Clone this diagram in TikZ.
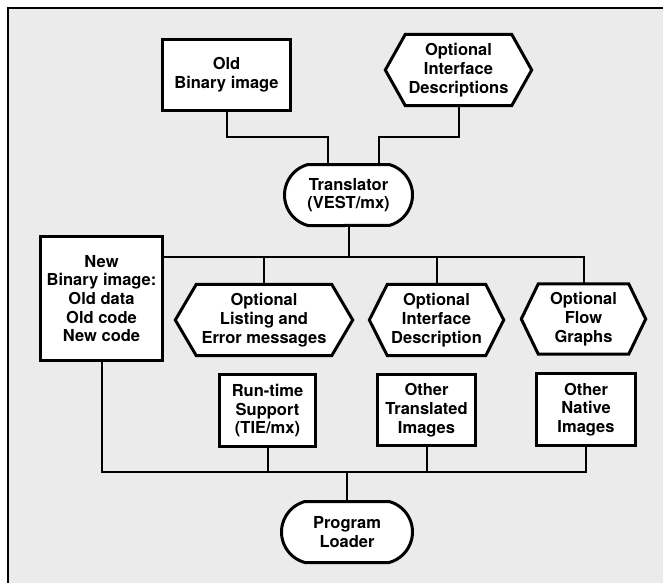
\documentclass[tikz,border=0pt]{standalone}
\usepackage{fontspec}
\setmainfont{TeX Gyre Heros}
\usetikzlibrary{shapes.misc}
\pgfdeclarelayer{bg}
\pgfdeclarelayer{outline}
\pgfsetlayers{bg,outline,main}
\tikzset{
  lbl/.style={font=\bfseries\fontsize{16.5}{18.7}\selectfont, align=center, inner sep=0pt},
  boxnode/.style={lbl, draw, fill=white, line width=3pt},
  hexnode/.style={lbl},
  hexline/.style={draw, fill=white, line width=3pt, line join=miter},
  rrnode/.style={lbl, rounded rectangle, rounded rectangle arc length=150, draw, fill=white, line width=3pt},
  conn/.style={line width=2pt},
}
\newcommand\hexout[2]{%
  \begin{pgfonlayer}{outline}
  \path[hexline] (#1.west) -- ([xshift=#2]#1.north west) -- ([xshift=-#2]#1.north east) -- (#1.east) -- ([xshift=-#2]#1.south east) -- ([xshift=#2]#1.south west) -- cycle;
  \end{pgfonlayer}}
\begin{document}
\begin{tikzpicture}[x=1pt,y=-1pt]
\useasboundingbox (0,0) rectangle (663,583);
\begin{pgfonlayer}{bg}
  \fill[black!8] (8,8) rectangle (663,583);
  \draw[line width=2.5pt] (663,8) -- (8,8) -- (8,583);
\end{pgfonlayer}

% top row
\node[boxnode, minimum width=128pt, minimum height=71pt] (old) at (226.5,75) {Old\\Binary image};
\node[hexnode, minimum width=146pt, minimum height=71pt] (oid) at (458.5,70) {Optional\\Interface\\Descriptions};
\hexout{oid}{20pt}

% translator
\node[rrnode, minimum width=128pt, minimum height=61pt] (tr) at (348.5,195) {Translator\\(VEST/mx)};

% middle row
\node[boxnode, minimum width=122pt, minimum height=124pt] (new) at (101.5,298.5) {New\\Binary image:\\Old data\\Old code\\New code};
\node[hexnode, minimum width=177pt, minimum height=71pt] (h1) at (264,320) {Optional\\Listing and\\Error messages};
\hexout{h1}{21pt}
\node[hexnode, minimum width=134pt, minimum height=71pt] (h2) at (436.5,320) {Optional\\Interface\\Description};
\hexout{h2}{18pt}
\node[hexnode, minimum width=124pt, minimum height=70pt] (h3) at (583.5,319) {Optional\\Flow\\Graphs};
\hexout{h3}{17pt}

% lower row
\node[boxnode, minimum width=96pt, minimum height=72pt] (rt) at (267.5,410.5) {Run-time\\Support\\(TIE/mx)};
\node[boxnode, minimum width=98pt, minimum height=71pt] (ot) at (426.5,410) {Other\\Translated\\Images};
\node[boxnode, minimum width=99pt, minimum height=72pt] (on) at (586,409.5) {Other\\Native\\Images};

% loader
\node[rrnode, minimum width=131pt, minimum height=61pt] (pl) at (347,532) {Program\\Loader};

% junction coordinates
\coordinate (ja) at (328,137);
\coordinate (jb) at (379,137);
\coordinate (busA) at (349,257);
\coordinate (busB) at (345,472);

% connectors
\draw[conn] (old.south) |- (ja) -- (ja |- tr.north);
\draw[conn] (oid.south) |- (jb) -- (jb |- tr.north);
\draw[conn] (tr.south) -- (tr.south |- busA);
\draw[conn] (new.east |- busA) -- (h3.north |- busA) -- (h3.north);
\draw[conn] (h1.north |- busA) -- (h1.north);
\draw[conn] (h2.north |- busA) -- (h2.north);
\draw[conn] (new.south) |- (on.south |- busB) -- (on.south);
\draw[conn] (rt.south) -- (rt.south |- busB);
\draw[conn] (ot.south) -- (ot.south |- busB);
\draw[conn] (pl.north |- busB) -- (pl.north);
\end{tikzpicture}
\end{document}
